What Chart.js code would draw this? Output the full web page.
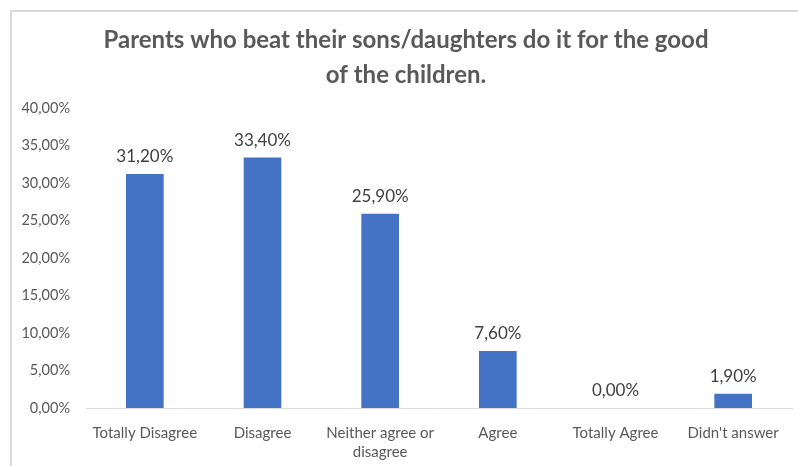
<!DOCTYPE html>
<html>
<head>
<meta charset="utf-8">
<script src="https://cdn.jsdelivr.net/npm/chart.js@4.4.1/dist/chart.umd.min.js"></script>
<style>
  html, body { margin: 0; padding: 0; background: #ffffff; }
  #wrap { position: relative; width: 798px; height: 466px; overflow: hidden; }
  #frame { position: absolute; left: 10px; top: 10px; width: 820px; height: 500px;
           border-left: 2px solid #d9d9d9; border-top: 2px solid #d9d9d9; }
  canvas { position: absolute; left: 0; top: 0; }
</style>
</head>
<body>
<div id="wrap">
  <div id="frame"></div>
  <canvas id="chart" width="798" height="466"></canvas>
</div>
<script>
// Survey answers (percent of respondents)
const categories = [
  'Totally Disagree',
  'Disagree',
  ['Neither agree or', 'disagree'],
  'Agree',
  'Totally Agree',
  "Didn't answer"
];
const shares = [31.2, 33.4, 25.9, 7.6, 0.0, 1.9];
const titleLines = [
  'Parents who beat their sons/daughters do it for the good',
  'of the children.'
];

const FONT = 'Lato, "Open Sans", sans-serif';
const pct = v => v.toFixed(2).replace('.', ',') + '%';

// Writes each bar's value just above it
const valueLabels = {
  id: 'valueLabels',
  afterDatasetsDraw(chart) {
    const ctx = chart.ctx;
    const meta = chart.getDatasetMeta(0);
    ctx.save();
    ctx.font = '17px ' + FONT;
    ctx.fillStyle = '#404040';
    ctx.textAlign = 'center';
    ctx.textBaseline = 'alphabetic';
    meta.data.forEach((bar, i) => {
      ctx.fillText(pct(shares[i]), bar.x, bar.y - 12);
    });
    ctx.restore();
  }
};

new Chart(document.getElementById('chart'), {
  type: 'bar',
  data: {
    labels: categories,
    datasets: [{
      data: shares,
      backgroundColor: '#4472c4',
      borderWidth: 0,
      categoryPercentage: 1.0,
      barPercentage: 0.32
    }]
  },
  options: {
    responsive: false,
    animation: false,
    layout: { padding: { left: 20, right: 6, top: 23, bottom: 3 } },
    plugins: {
      legend: { display: false },
      tooltip: { enabled: false },
      title: {
        display: true,
        text: titleLines,
        color: '#595959',
        font: { family: FONT, size: 24, weight: 'bold', lineHeight: 1.45 },
        padding: { top: 0, bottom: 15.4 }
      }
    },
    scales: {
      x: {
        grid: { display: false, drawTicks: false },
        border: { display: true, color: '#d9d9d9', width: 1 },
        ticks: {
          color: '#595959',
          font: { family: FONT, size: 15, lineHeight: 1.25 },
          padding: 16,
          maxRotation: 0,
          autoSkip: false
        },
        afterFit: scale => { scale.height = 55; }
      },
      y: {
        min: 0,
        max: 40,
        grid: { display: false, drawTicks: false },
        border: { display: false },
        ticks: {
          stepSize: 5,
          color: '#595959',
          font: { family: FONT, size: 14.5 },
          padding: 16,
          callback: v => pct(v)
        },
        afterFit: scale => { scale.width = 66; }
      }
    }
  },
  plugins: [valueLabels]
});
</script>
</body>
</html>
